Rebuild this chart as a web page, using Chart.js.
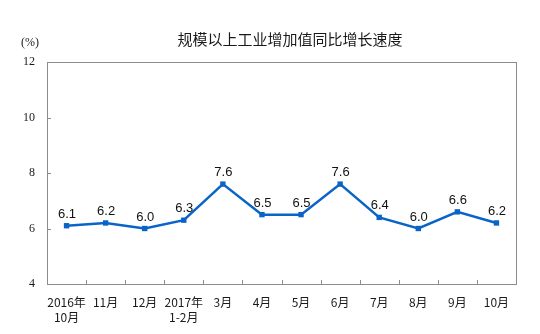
<!DOCTYPE html>
<html><head><meta charset="utf-8">
<script src="https://cdn.jsdelivr.net/npm/chart.js@4/dist/chart.umd.min.js"></script>
<style>html,body{margin:0;padding:0;background:#fff}#wrap{width:540px;height:334px;position:relative}</style>
</head><body><div id="wrap"><canvas id="c" width="540" height="334"></canvas></div>
<script>
const categories = [['2016年','10月'],'11月','12月',['2017年','1-2月'],'3月','4月','5月','6月','7月','8月','9月','10月'];
const growth = [6.1, 6.2, 6.0, 6.3, 7.6, 6.5, 6.5, 7.6, 6.4, 6.0, 6.6, 6.2];
const yTicks = [4, 6, 8, 10, 12];
const titleText = '规模以上工业增加值同比增长速度';
const unitText = '(%)';

const frame = {
  id: 'frame',
  afterDraw(chart) {
    const ctx = chart.ctx, a = chart.chartArea;
    const ys = chart.scales.y;
    ctx.save();
    ctx.strokeStyle = '#8c8c8c';
    ctx.lineWidth = 1;
    ctx.strokeRect(Math.round(a.left)+0.5, Math.round(a.top)+0.5, Math.round(a.right-a.left), Math.round(a.bottom-a.top));
    ctx.beginPath();
    const n = categories.length;
    for (let i = 1; i < n; i++) {
      const x = Math.round(a.left + i*(a.right-a.left)/n)+0.5;
      ctx.moveTo(x, a.bottom); ctx.lineTo(x, a.bottom-4);
    }
    yTicks.forEach(v => {
      const y = Math.round(ys.getPixelForValue(v))+0.5;
      ctx.moveTo(a.left, y); ctx.lineTo(a.left+4, y);
    });
    ctx.stroke();
    ctx.fillStyle = '#1a1a1a';
    ctx.font = '15px "Noto Sans CJK SC"';
    ctx.textAlign = 'center'; ctx.textBaseline = 'middle';
    ctx.fillText(titleText, 290, 39);
    ctx.font = '12px "Liberation Serif"';
    ctx.fillText(unitText, 30, 43);
    ctx.font = '13px "Liberation Sans"';
    ctx.fillStyle = '#111';
    ctx.textBaseline = 'alphabetic';
    const meta = chart.getDatasetMeta(0);
    meta.data.forEach((p, i) => {
      ctx.fillText(growth[i].toFixed(1), p.x + 0.5, p.y - 8);
    });
    ctx.restore();
  }
};

new Chart(document.getElementById('c'), {
  type: 'line',
  data: {
    labels: categories,
    datasets: [{
      data: growth,
      borderColor: '#0a64c8',
      backgroundColor: '#0a64c8',
      borderWidth: 2.5,
      pointStyle: 'rect',
      pointRadius: 3.8,
      pointBorderWidth: 0,
      tension: 0,
      fill: false
    }]
  },
  options: {
    responsive: false,
    animation: false,
    devicePixelRatio: 1,
    layout: { padding: { top: 62, right: 24, left: 0, bottom: 0 } },
    plugins: { legend: { display: false }, title: { display: false }, tooltip: { enabled: false } },
    scales: {
      x: {
        type: 'category',
        offset: true,
        grid: { display: false, drawTicks: false },
        border: { display: false },
        ticks: {
          autoSkip: false, maxRotation: 0, padding: 11,
          color: '#1a1a1a',
          font: { family: '"Noto Sans CJK SC"', size: 12, lineHeight: 1.25 }
        },
        afterFit(s) { s.height = 50; }
      },
      y: {
        min: 4, max: 12,
        afterBuildTicks(s) { s.ticks = yTicks.map(v => ({ value: v })); },
        grid: { display: false, drawTicks: false },
        border: { display: false },
        ticks: {
          padding: 12, color: '#1a1a1a',
          font: { family: '"Liberation Serif"', size: 12 }
        },
        afterFit(s) { s.width = 47; }
      }
    }
  },
  plugins: [frame]
});
</script>
</body></html>
